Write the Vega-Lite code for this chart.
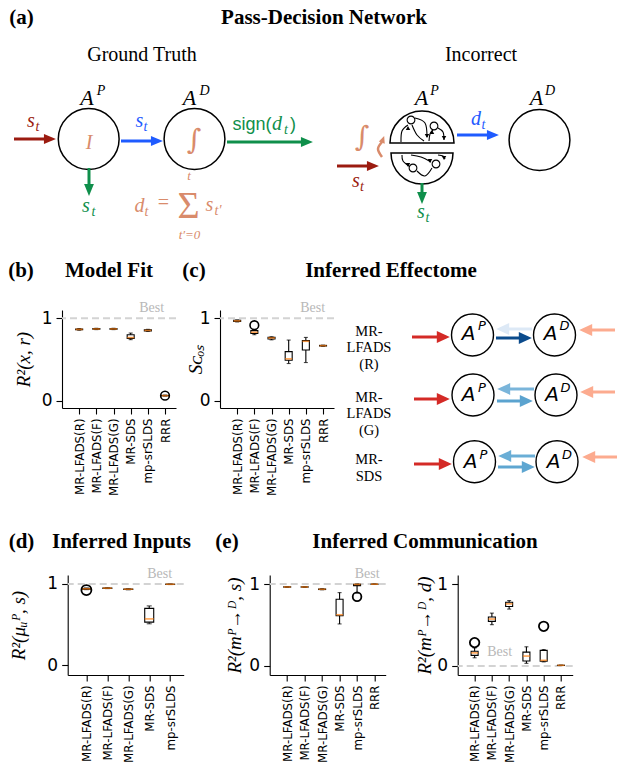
{
"$schema":"https://vega.github.io/schema/vega-lite/v6.json",
"background":"white",
"padding":{"left":8,"top":0,"right":0,"bottom":0},
"config":{"view":{"stroke":null},"axis":{"domainColor":"black","tickColor":"black","labelColor":"black","titleColor":"black","domainWidth":1.1,"tickWidth":1.1,"tickSize":6,"grid":false,"labelFont":"DejaVu Sans","titleFont":"Liberation Serif","titleFontWeight":"normal","titleFontStyle":"italic"}},
"datasets":{
"fit":[{"method":"MR-LFADS(R)","lo":0.855,"q1":0.86,"med":0.865,"q3":0.87,"hi":0.875},{"method":"MR-LFADS(F)","lo":0.862,"q1":0.866,"med":0.87,"q3":0.874,"hi":0.878},{"method":"MR-LFADS(G)","lo":0.862,"q1":0.866,"med":0.87,"q3":0.874,"hi":0.878},{"method":"MR-SDS","lo":0.74,"q1":0.755,"med":0.765,"q3":0.8,"hi":0.82},{"method":"mp-srSLDS","lo":0.84,"q1":0.845,"med":0.852,"q3":0.86,"hi":0.865},{"method":"RRR","lo":0.056,"q1":0.058,"med":0.06,"q3":0.063,"hi":0.066}],
"fitOut":[{"method":"RRR","v":0.06}],
"cos":[{"method":"MR-LFADS(R)","lo":0.955,"q1":0.96,"med":0.968,"q3":0.975,"hi":0.98},{"method":"MR-LFADS(F)","lo":0.8,"q1":0.815,"med":0.83,"q3":0.85,"hi":0.86},{"method":"MR-LFADS(G)","lo":0.738,"q1":0.748,"med":0.761,"q3":0.768,"hi":0.775},{"method":"MR-SDS","lo":0.45,"q1":0.49,"med":0.507,"q3":0.594,"hi":0.735},{"method":"mp-srSLDS","lo":0.462,"q1":0.615,"med":0.72,"q3":0.728,"hi":0.767},{"method":"RRR","lo":0.66,"q1":0.663,"med":0.667,"q3":0.67,"hi":0.673}],
"cosOut":[{"method":"MR-LFADS(F)","v":0.915}],
"inp":[{"method":"MR-LFADS(R)","lo":0.93,"q1":0.935,"med":0.94,"q3":0.945,"hi":0.95},{"method":"MR-LFADS(F)","lo":0.943,"q1":0.945,"med":0.948,"q3":0.95,"hi":0.952},{"method":"MR-LFADS(G)","lo":0.928,"q1":0.931,"med":0.935,"q3":0.938,"hi":0.941},{"method":"MR-SDS","lo":0.51,"q1":0.53,"med":0.57,"q3":0.7,"hi":0.73},{"method":"mp-srSLDS","lo":0.993,"q1":0.995,"med":0.996,"q3":0.997,"hi":0.998}],
"inpOut":[{"method":"MR-LFADS(R)","v":0.925}],
"comS":[{"method":"MR-LFADS(R)","lo":0.96,"q1":0.962,"med":0.964,"q3":0.966,"hi":0.968},{"method":"MR-LFADS(F)","lo":0.96,"q1":0.962,"med":0.964,"q3":0.966,"hi":0.968},{"method":"MR-LFADS(G)","lo":0.93,"q1":0.933,"med":0.936,"q3":0.939,"hi":0.942},{"method":"MR-SDS","lo":0.513,"q1":0.613,"med":0.625,"q3":0.815,"hi":0.895},{"method":"mp-srSLDS","lo":0.89,"q1":0.98,"med":0.995,"q3":0.998,"hi":1.0},{"method":"RRR","lo":0.996,"q1":0.997,"med":0.998,"q3":0.999,"hi":1.0}],
"comSOut":[{"method":"mp-srSLDS","v":0.845}],
"comD":[{"method":"MR-LFADS(R)","lo":0.1,"q1":0.13,"med":0.16,"q3":0.18,"hi":0.22},{"method":"MR-LFADS(F)","lo":0.504,"q1":0.544,"med":0.573,"q3":0.597,"hi":0.645},{"method":"MR-LFADS(G)","lo":0.694,"q1":0.726,"med":0.758,"q3":0.778,"hi":0.798},{"method":"MR-SDS","lo":0.032,"q1":0.06,"med":0.121,"q3":0.169,"hi":0.234},{"method":"mp-srSLDS","lo":0.05,"q1":0.058,"med":0.069,"q3":0.19,"hi":0.2},{"method":"RRR","lo":0.006,"q1":0.007,"med":0.008,"q3":0.009,"hi":0.01}],
"comDOut":[{"method":"MR-LFADS(R)","v":0.285},{"method":"mp-srSLDS","v":0.484}],
"a_circles":[{"x":91.7,"y":139},{"x":197.5,"y":139},{"x":542.5,"y":140}],
"a_split":[{"half":"top","x":425,"y":143},{"half":"bottom","x":425,"y":153}],
"a_arrows":[{"x":17,"y":139,"x2":48,"y2":139,"sig":"input","dir":"right"},{"x":124,"y":141,"x2":155,"y2":141,"sig":"comm","dir":"right"},{"x":230,"y":142,"x2":305,"y2":142,"sig":"output","dir":"right"},{"x":92,"y":168,"x2":92,"y2":185,"sig":"output","dir":"down"},{"x":340,"y":166,"x2":371,"y2":166,"sig":"input","dir":"right"},{"x":460,"y":135,"x2":491,"y2":135,"sig":"comm","dir":"right"},{"x":425,"y":183,"x2":425,"y2":193,"sig":"output","dir":"down"}],
"a_curves":[{"c":1,"o":1,"x":404,"y":142},{"c":1,"o":2,"x":405,"y":131},{"c":1,"o":3,"x":411,"y":125},{"c":2,"o":1,"x":418,"y":118},{"c":2,"o":2,"x":428,"y":123},{"c":2,"o":3,"x":430,"y":137},{"c":3,"o":1,"x":415,"y":125},{"c":3,"o":2,"x":420,"y":135},{"c":3,"o":3,"x":427,"y":141},{"c":4,"o":1,"x":432,"y":141},{"c":4,"o":2,"x":433,"y":134},{"c":4,"o":3,"x":436,"y":130},{"c":5,"o":1,"x":441,"y":128},{"c":5,"o":2,"x":446,"y":132},{"c":5,"o":3,"x":447,"y":140},{"c":6,"o":1,"x":405,"y":155},{"c":6,"o":2,"x":406,"y":161},{"c":6,"o":3,"x":412,"y":166},{"c":7,"o":1,"x":420,"y":171},{"c":7,"o":2,"x":428,"y":176},{"c":7,"o":3,"x":435,"y":168},{"c":8,"o":1,"x":414,"y":155},{"c":8,"o":2,"x":424,"y":157},{"c":8,"o":3,"x":434,"y":162},{"c":9,"o":1,"x":441,"y":155},{"c":9,"o":2,"x":446,"y":156},{"c":9,"o":3,"x":448,"y":159}],
"a_nodes":[{"x":414,"y":120},{"x":437,"y":126},{"x":416,"y":168},{"x":439,"y":164}],
"a_tiny":[{"x":411,"y":128,"dir":"up"},{"x":430,"y":136,"dir":"down"},{"x":435,"y":132,"dir":"up"},{"x":447,"y":138,"dir":"down"},{"x":411,"y":165,"dir":"down"},{"x":433,"y":161,"dir":"down"},{"x":447,"y":158,"dir":"down"}],
"a_coral":[{"o":1,"x":385,"y":157},{"o":2,"x":381,"y":149},{"o":3,"x":385,"y":142}],
"a_head":[{"t":"(a)","x":24.5,"y":24},{"t":"Pass-Decision Network","x":327,"y":24},{"t":"(b)","x":24,"y":277},{"t":"Model Fit","x":112,"y":277},{"t":"(c)","x":197,"y":277},{"t":"Inferred Effectome","x":394,"y":277},{"t":"(d)","x":24.5,"y":548},{"t":"Inferred Inputs","x":124.5,"y":548},{"t":"(e)","x":230,"y":548},{"t":"Inferred Communication","x":428,"y":548}],
"a_sub":[{"t":"Ground Truth","x":145,"y":61},{"t":"Incorrect","x":484,"y":61}],
"a_A":[{"t":"A","x":90,"y":105},{"t":"A","x":192.5,"y":105},{"t":"A","x":424.5,"y":105},{"t":"A","x":539.5,"y":105}],
"a_sup":[{"t":"P","x":104,"y":95},{"t":"D","x":207.5,"y":95},{"t":"P","x":437.5,"y":95},{"t":"D","x":553,"y":95}],
"a_math":[{"t":"s","x":34,"y":127,"sig":"input"},{"t":"s","x":142.5,"y":127,"sig":"comm"},{"t":"s","x":89,"y":212,"sig":"output"},{"t":"I","x":92,"y":149,"sig":"internal"},{"t":"d","x":142.5,"y":212,"sig":"internal"},{"t":"s","x":212.5,"y":211,"sig":"internal"},{"t":"d","x":280,"y":130,"sig":"output"},{"t":"s","x":359,"y":187,"sig":"input"},{"t":"s","x":424,"y":218,"sig":"output"},{"t":"d","x":479,"y":125,"sig":"comm"}],
"a_msub":[{"t":"t","x":40.5,"y":131,"sig":"input"},{"t":"t","x":148.5,"y":131,"sig":"comm"},{"t":"t","x":96.5,"y":216,"sig":"output"},{"t":"t","x":149.5,"y":216,"sig":"internal"},{"t":"t′","x":221,"y":215,"sig":"internal"},{"t":"t","x":289,"y":134,"sig":"output"},{"t":"t","x":365,"y":191,"sig":"input"},{"t":"t","x":430.5,"y":222,"sig":"output"},{"t":"t","x":486.5,"y":129,"sig":"comm"}],
"a_eq":[{"t":"=","x":166.5,"y":209,"sig":"internal"}],
"a_sigma":[{"t":"Σ","x":191.5,"y":218,"sig":"internal"}],
"a_lim":[{"t":"t","x":192,"y":180,"sig":"internal"},{"t":"t′=0","x":192.5,"y":239,"sig":"internal"}],
"a_sans":[{"t":"sign(","x":255,"y":130,"sig":"output"},{"t":")","x":296,"y":130,"sig":"output"}],
"a_int":[{"t":"∫","x":197,"y":141,"sig":"internal"},{"t":"∫","x":365,"y":138,"sig":"internal"}],
"e_circles":[{"x":475.5,"y":335},{"x":557.5,"y":335},{"x":476,"y":395},{"x":559,"y":395},{"x":477.5,"y":461.7},{"x":560,"y":461.7}],
"e_arrows":[{"x":415,"y":337,"x2":441,"y2":337,"k":"inP","dir":"right"},{"x":618,"y":330,"x2":594,"y2":330,"k":"inD","dir":"left"},{"x":535,"y":329,"x2":511,"y2":329,"k":"R_DP","dir":"left"},{"x":499,"y":338,"x2":523,"y2":338,"k":"R_PD","dir":"right"},{"x":417,"y":399,"x2":441,"y2":399,"k":"inP","dir":"right"},{"x":618,"y":392,"x2":595,"y2":392,"k":"inD","dir":"left"},{"x":537,"y":389,"x2":512,"y2":389,"k":"G_DP","dir":"left"},{"x":500,"y":401,"x2":524,"y2":401,"k":"G_PD","dir":"right"},{"x":417,"y":464,"x2":443,"y2":464,"k":"inP","dir":"right"},{"x":620,"y":457,"x2":597,"y2":457,"k":"inD","dir":"left"},{"x":538,"y":456,"x2":513,"y2":456,"k":"S_DP","dir":"left"},{"x":501,"y":467,"x2":526,"y2":467,"k":"S_PD","dir":"right"}],
"e_labels":[{"t":"MR-\nLFADS\n(R)","x":372,"y":331.5},{"t":"MR-\nLFADS\n(G)","x":372,"y":397.5},{"t":"MR-\nSDS","x":372,"y":460}],
"e_A":[{"t":"A","x":471.5,"y":340},{"t":"A","x":553.5,"y":340},{"t":"A","x":471.5,"y":401},{"t":"A","x":555,"y":401},{"t":"A","x":473.5,"y":468},{"t":"A","x":556.5,"y":468}],
"e_sup":[{"t":"P","x":485,"y":330},{"t":"D","x":567.5,"y":330},{"t":"P","x":485,"y":392},{"t":"D","x":568.5,"y":392},{"t":"P","x":486.5,"y":459},{"t":"D","x":570,"y":459}]
},
"resolve":{"scale":{"color":"independent","shape":"independent"}},
"spacing":265,"bounds":"flush",
"vconcat":[
 {"width":560,"height":45,
  "encoding":{"x":{"field":"x","type":"quantitative","scale":{"domain":[65,625],"nice":false,"zero":false},"axis":null},"y":{"field":"y","type":"quantitative","scale":{"domain":[0,45],"nice":false,"zero":false,"reverse":true},"axis":null}},
  "layer":[
   {"data":{"name":"a_circles"},"mark":{"type":"point","shape":"circle","size":3700,"filled":true,"fill":"white","stroke":"black","strokeWidth":1.5,"opacity":1}},
   {"data":{"name":"a_split"},"transform":[{"filter":"datum.half == 'top'"}],"mark":{"type":"arc","radius":32,"theta":-1.5708,"theta2":1.5708,"fill":"white","stroke":"black","strokeWidth":1.5}},
   {"data":{"name":"a_split"},"transform":[{"filter":"datum.half == 'bottom'"}],"mark":{"type":"arc","radius":31,"theta":1.5708,"theta2":4.7124,"fill":"white","stroke":"black","strokeWidth":1.5}},
   {"data":{"name":"a_curves"},"mark":{"type":"line","color":"black","strokeWidth":1.1,"interpolate":"cardinal"},"encoding":{"detail":{"field":"c","type":"nominal"},"order":{"field":"o","type":"quantitative"}}},
   {"data":{"name":"a_nodes"},"mark":{"type":"point","shape":"circle","size":60,"filled":true,"fill":"white","stroke":"black","strokeWidth":1.1,"opacity":1}},
   {"data":{"name":"a_tiny"},"mark":{"type":"point","size":20,"filled":true,"color":"black","opacity":1},"encoding":{"shape":{"field":"dir","type":"nominal","scale":{"domain":["up","down"],"range":["triangle-up","triangle-down"]},"legend":null}}},
   {"data":{"name":"a_coral"},"mark":{"type":"line","color":"#d98b6b","strokeWidth":2.5,"interpolate":"cardinal"},"encoding":{"order":{"field":"o","type":"quantitative"}}},
   {"data":{"values":[{"x":385,"y":142}]},"mark":{"type":"point","shape":"M1,0L-0.1,-0.5L-0.1,0.5Z","size":160,"angle":290,"filled":true,"color":"#d98b6b","opacity":1}},
   {"data":{"name":"a_arrows"},"mark":{"type":"rule","strokeWidth":3},"encoding":{"x2":{"field":"x2"},"y2":{"field":"y2"},"color":{"field":"sig","type":"nominal","scale":{"domain":["input","comm","output","internal"],"range":["#9b1b10","#1f5bff","#0f8f4b","#d98b6b"]},"legend":null}}},
   {"data":{"name":"a_arrows"},"transform":[{"filter":"datum.dir == 'right'"}],"mark":{"type":"point","shape":"M1,0L-0.1,-0.45L-0.1,0.45Z","size":476,"angle":0,"filled":true,"opacity":1},"encoding":{"x":{"field":"x2","type":"quantitative","scale":{"domain":[65,625],"nice":false,"zero":false},"axis":null},"y":{"field":"y2","type":"quantitative","scale":{"domain":[0,45],"nice":false,"zero":false,"reverse":true},"axis":null},"color":{"field":"sig","type":"nominal","scale":{"domain":["input","comm","output","internal"],"range":["#9b1b10","#1f5bff","#0f8f4b","#d98b6b"]},"legend":null}}},
   {"data":{"name":"a_arrows"},"transform":[{"filter":"datum.dir == 'down'"}],"mark":{"type":"point","shape":"M1,0L-0.1,-0.45L-0.1,0.45Z","size":476,"angle":90,"filled":true,"opacity":1},"encoding":{"x":{"field":"x2","type":"quantitative","scale":{"domain":[65,625],"nice":false,"zero":false},"axis":null},"y":{"field":"y2","type":"quantitative","scale":{"domain":[0,45],"nice":false,"zero":false,"reverse":true},"axis":null},"color":{"field":"sig","type":"nominal","scale":{"domain":["input","comm","output","internal"],"range":["#9b1b10","#1f5bff","#0f8f4b","#d98b6b"]},"legend":null}}},
   {"data":{"name":"a_head"},"mark":{"type":"text","font":"Liberation Serif","fontWeight":"bold","fontSize":21,"align":"center","baseline":"alphabetic","color":"black"},"encoding":{"text":{"field":"t","type":"nominal"}}},
   {"data":{"name":"a_sub"},"mark":{"type":"text","font":"Liberation Serif","fontSize":20,"align":"center","baseline":"alphabetic","color":"black"},"encoding":{"text":{"field":"t","type":"nominal"}}},
   {"data":{"name":"a_A"},"mark":{"type":"text","font":"Liberation Serif","fontStyle":"italic","fontSize":22,"align":"center","baseline":"alphabetic","color":"black"},"encoding":{"text":{"field":"t","type":"nominal"}}},
   {"data":{"name":"a_sup"},"mark":{"type":"text","font":"Liberation Serif","fontStyle":"italic","fontSize":14,"align":"center","baseline":"alphabetic","color":"black"},"encoding":{"text":{"field":"t","type":"nominal"}}},
   {"data":{"name":"a_math"},"mark":{"type":"text","font":"Liberation Serif","fontStyle":"italic","fontSize":20,"align":"center","baseline":"alphabetic"},"encoding":{"text":{"field":"t","type":"nominal"},"color":{"field":"sig","type":"nominal","scale":{"domain":["input","comm","output","internal"],"range":["#9b1b10","#1f5bff","#0f8f4b","#d98b6b"]},"legend":null}}},
   {"data":{"name":"a_msub"},"mark":{"type":"text","font":"Liberation Serif","fontStyle":"italic","fontSize":14,"align":"center","baseline":"alphabetic"},"encoding":{"text":{"field":"t","type":"nominal"},"color":{"field":"sig","type":"nominal","scale":{"domain":["input","comm","output","internal"],"range":["#9b1b10","#1f5bff","#0f8f4b","#d98b6b"]},"legend":null}}},
   {"data":{"name":"a_eq"},"mark":{"type":"text","font":"Liberation Serif","fontSize":20,"align":"center","baseline":"alphabetic"},"encoding":{"text":{"field":"t","type":"nominal"},"color":{"field":"sig","type":"nominal","scale":{"domain":["input","comm","output","internal"],"range":["#9b1b10","#1f5bff","#0f8f4b","#d98b6b"]},"legend":null}}},
   {"data":{"name":"a_sigma"},"mark":{"type":"text","font":"Liberation Serif","fontSize":38,"align":"center","baseline":"alphabetic"},"encoding":{"text":{"field":"t","type":"nominal"},"color":{"field":"sig","type":"nominal","scale":{"domain":["input","comm","output","internal"],"range":["#9b1b10","#1f5bff","#0f8f4b","#d98b6b"]},"legend":null}}},
   {"data":{"name":"a_lim"},"mark":{"type":"text","font":"Liberation Serif","fontStyle":"italic","fontSize":13,"align":"center","baseline":"alphabetic"},"encoding":{"text":{"field":"t","type":"nominal"},"color":{"field":"sig","type":"nominal","scale":{"domain":["input","comm","output","internal"],"range":["#9b1b10","#1f5bff","#0f8f4b","#d98b6b"]},"legend":null}}},
   {"data":{"name":"a_sans"},"mark":{"type":"text","font":"Liberation Sans","fontSize":18,"align":"center","baseline":"alphabetic"},"encoding":{"text":{"field":"t","type":"nominal"},"color":{"field":"sig","type":"nominal","scale":{"domain":["input","comm","output","internal"],"range":["#9b1b10","#1f5bff","#0f8f4b","#d98b6b"]},"legend":null}}},
   {"data":{"name":"a_int"},"mark":{"type":"text","font":"DejaVu Serif","fontStyle":"italic","fontSize":28,"align":"center","baseline":"middle"},"encoding":{"text":{"field":"t","type":"nominal"},"color":{"field":"sig","type":"nominal","scale":{"domain":["input","comm","output","internal"],"range":["#9b1b10","#1f5bff","#0f8f4b","#d98b6b"]},"legend":null}}}
  ]},
 {"hconcat":[
  {"width":114,"height":98,"layer":[
   {"data":{"values":[{"best":1}]},"mark":{"type":"rule","color":"#d3d3d3","strokeWidth":2,"strokeDash":[7,4]},"encoding":{"y":{"field":"best","type":"quantitative","scale":{"domain":[-0.09,1.1],"nice":false,"zero":false},"axis":{"values":[0,1],"format":"d","labelFontSize":17,"labelPadding":4,"title":"R²(x, r)","titleFontSize":19,"titlePadding":8}}}},
   {"data":{"values":[{"best":1}]},"mark":{"type":"text","text":"Best","align":"right","baseline":"alphabetic","dx":-1,"dy":-6,"font":"Liberation Serif","fontSize":14,"color":"#b8b8b8"},"encoding":{"x":{"datum":"RRR","type":"nominal","scale":{"type":"point","domain":["MR-LFADS(R)","MR-LFADS(F)","MR-LFADS(G)","MR-SDS","mp-srSLDS","RRR"],"padding":0.82,"align":0.61}},"y":{"field":"best","type":"quantitative"}}},
   {"data":{"name":"fit"},"mark":{"type":"rule","color":"black","strokeWidth":1.1},"encoding":{"x":{"field":"method","type":"nominal","sort":null,"scale":{"type":"point","domain":["MR-LFADS(R)","MR-LFADS(F)","MR-LFADS(G)","MR-SDS","mp-srSLDS","RRR"],"padding":0.82,"align":0.61},"axis":{"title":null,"labelAngle":-90,"labelFontSize":11.8,"labelPadding":4,"labelOverlap":false}},"y":{"field":"lo","type":"quantitative"},"y2":{"field":"q1"}}},
   {"data":{"name":"fit"},"mark":{"type":"rule","color":"black","strokeWidth":1.1},"encoding":{"x":{"field":"method","type":"nominal","sort":null},"y":{"field":"q3","type":"quantitative"},"y2":{"field":"hi"}}},
   {"data":{"name":"fit"},"mark":{"type":"bar","size":7,"fillOpacity":0,"stroke":"black","strokeWidth":1.1},"encoding":{"x":{"field":"method","type":"nominal","sort":null},"y":{"field":"q1","type":"quantitative"},"y2":{"field":"q3"}}},
   {"data":{"name":"fit"},"mark":{"type":"tick","orient":"horizontal","size":4,"thickness":1.1,"color":"black"},"encoding":{"x":{"field":"method","type":"nominal","sort":null},"y":{"field":"lo","type":"quantitative"}}},
   {"data":{"name":"fit"},"mark":{"type":"tick","orient":"horizontal","size":4,"thickness":1.1,"color":"black"},"encoding":{"x":{"field":"method","type":"nominal","sort":null},"y":{"field":"hi","type":"quantitative"}}},
   {"data":{"name":"fit"},"mark":{"type":"tick","orient":"horizontal","size":7,"thickness":1.6,"color":"#ff7f0e"},"encoding":{"x":{"field":"method","type":"nominal","sort":null},"y":{"field":"med","type":"quantitative"}}},
   {"data":{"name":"fitOut"},"mark":{"type":"point","shape":"circle","filled":false,"color":"black","strokeWidth":1.6,"size":75,"opacity":1},"encoding":{"x":{"field":"method","type":"nominal","sort":null},"y":{"field":"v","type":"quantitative"}}}
  ]},
  {"width":114,"height":98,"layer":[
   {"data":{"values":[{"best":1}]},"mark":{"type":"rule","color":"#d3d3d3","strokeWidth":2,"strokeDash":[7,4]},"encoding":{"y":{"field":"best","type":"quantitative","scale":{"domain":[-0.09,1.1],"nice":false,"zero":false},"axis":{"values":[0,1],"format":"d","labelFontSize":17,"labelPadding":4,"title":"Sᴄₒₛ","titleFontSize":19,"titlePadding":-6}}}},
   {"data":{"values":[{"best":1}]},"mark":{"type":"text","text":"Best","align":"right","baseline":"alphabetic","dx":2,"dy":-6,"font":"Liberation Serif","fontSize":14,"color":"#b8b8b8"},"encoding":{"x":{"datum":"RRR","type":"nominal","scale":{"type":"point","domain":["MR-LFADS(R)","MR-LFADS(F)","MR-LFADS(G)","MR-SDS","mp-srSLDS","RRR"],"padding":0.82,"align":0.61}},"y":{"field":"best","type":"quantitative"}}},
   {"data":{"name":"cos"},"mark":{"type":"rule","color":"black","strokeWidth":1.1},"encoding":{"x":{"field":"method","type":"nominal","sort":null,"scale":{"type":"point","domain":["MR-LFADS(R)","MR-LFADS(F)","MR-LFADS(G)","MR-SDS","mp-srSLDS","RRR"],"padding":0.82,"align":0.61},"axis":{"title":null,"labelAngle":-90,"labelFontSize":11.8,"labelPadding":4,"labelOverlap":false}},"y":{"field":"lo","type":"quantitative"},"y2":{"field":"q1"}}},
   {"data":{"name":"cos"},"mark":{"type":"rule","color":"black","strokeWidth":1.1},"encoding":{"x":{"field":"method","type":"nominal","sort":null},"y":{"field":"q3","type":"quantitative"},"y2":{"field":"hi"}}},
   {"data":{"name":"cos"},"mark":{"type":"bar","size":7,"fillOpacity":0,"stroke":"black","strokeWidth":1.1},"encoding":{"x":{"field":"method","type":"nominal","sort":null},"y":{"field":"q1","type":"quantitative"},"y2":{"field":"q3"}}},
   {"data":{"name":"cos"},"mark":{"type":"tick","orient":"horizontal","size":4,"thickness":1.1,"color":"black"},"encoding":{"x":{"field":"method","type":"nominal","sort":null},"y":{"field":"lo","type":"quantitative"}}},
   {"data":{"name":"cos"},"mark":{"type":"tick","orient":"horizontal","size":4,"thickness":1.1,"color":"black"},"encoding":{"x":{"field":"method","type":"nominal","sort":null},"y":{"field":"hi","type":"quantitative"}}},
   {"data":{"name":"cos"},"mark":{"type":"tick","orient":"horizontal","size":7,"thickness":1.6,"color":"#ff7f0e"},"encoding":{"x":{"field":"method","type":"nominal","sort":null},"y":{"field":"med","type":"quantitative"}}},
   {"data":{"name":"cosOut"},"mark":{"type":"point","shape":"circle","filled":false,"color":"black","strokeWidth":1.6,"size":75,"opacity":1},"encoding":{"x":{"field":"method","type":"nominal","sort":null},"y":{"field":"v","type":"quantitative"}}}
  ]},
  {"width":245,"height":98,
   "encoding":{"x":{"field":"x","type":"quantitative","scale":{"domain":[381,626],"nice":false,"zero":false},"axis":null},"y":{"field":"y","type":"quantitative","scale":{"domain":[310,408],"nice":false,"zero":false,"reverse":true},"axis":null}},
   "layer":[
    {"data":{"name":"e_labels"},"mark":{"type":"text","font":"Liberation Serif","fontSize":14.5,"lineBreak":"\n","lineHeight":16.5,"align":"center","baseline":"middle","color":"black"},"encoding":{"text":{"field":"t","type":"nominal"}}},
    {"data":{"name":"e_arrows"},"mark":{"type":"rule","strokeWidth":3},"encoding":{"x2":{"field":"x2"},"y2":{"field":"y2"},"color":{"field":"k","type":"nominal","scale":{"domain":["inP","inD","R_PD","R_DP","G_PD","G_DP","S_PD","S_DP"],"range":["#d42a26","#fcab8f","#0b4b8c","#dde9f6","#5ba3cf","#7ab5da","#5ea6d1","#6aaed6"]},"legend":null}}},
    {"data":{"name":"e_arrows"},"transform":[{"filter":"datum.dir == 'right'"}],"mark":{"type":"point","shape":"M1,0L-0.1,-0.5L-0.1,0.5Z","size":558,"angle":0,"filled":true,"opacity":1},"encoding":{"x":{"field":"x2","type":"quantitative","scale":{"domain":[381,626],"nice":false,"zero":false},"axis":null},"y":{"field":"y2","type":"quantitative","scale":{"domain":[310,408],"nice":false,"zero":false,"reverse":true},"axis":null},"color":{"field":"k","type":"nominal","scale":{"domain":["inP","inD","R_PD","R_DP","G_PD","G_DP","S_PD","S_DP"],"range":["#d42a26","#fcab8f","#0b4b8c","#dde9f6","#5ba3cf","#7ab5da","#5ea6d1","#6aaed6"]},"legend":null}}},
    {"data":{"name":"e_arrows"},"transform":[{"filter":"datum.dir == 'left'"}],"mark":{"type":"point","shape":"M1,0L-0.1,-0.5L-0.1,0.5Z","size":558,"angle":180,"filled":true,"opacity":1},"encoding":{"x":{"field":"x2","type":"quantitative","scale":{"domain":[381,626],"nice":false,"zero":false},"axis":null},"y":{"field":"y2","type":"quantitative","scale":{"domain":[310,408],"nice":false,"zero":false,"reverse":true},"axis":null},"color":{"field":"k","type":"nominal","scale":{"domain":["inP","inD","R_PD","R_DP","G_PD","G_DP","S_PD","S_DP"],"range":["#d42a26","#fcab8f","#0b4b8c","#dde9f6","#5ba3cf","#7ab5da","#5ea6d1","#6aaed6"]},"legend":null}}},
    {"data":{"name":"e_circles"},"mark":{"type":"point","shape":"circle","size":1764,"filled":true,"fill":"white","stroke":"black","strokeWidth":1.4,"opacity":1,"fillOpacity":0}},
    {"data":{"name":"e_A"},"mark":{"type":"text","font":"DejaVu Sans","fontStyle":"italic","fontSize":20,"align":"center","baseline":"alphabetic","color":"black"},"encoding":{"text":{"field":"t","type":"nominal"}}},
    {"data":{"name":"e_sup"},"mark":{"type":"text","font":"DejaVu Sans","fontStyle":"italic","fontSize":13,"align":"center","baseline":"alphabetic","color":"black"},"encoding":{"text":{"field":"t","type":"nominal"}}}
   ]}
 ],"spacing":44,"bounds":"flush"},
 {"hconcat":[
  {"width":1,"height":100,"data":{"values":[{"s":0}]},"mark":{"type":"point","opacity":0}},
  {"hconcat":[
   {"width":116,"height":100,"layer":[
    {"data":{"values":[{"best":1}]},"mark":{"type":"rule","color":"#d3d3d3","strokeWidth":2,"strokeDash":[7,4]},"encoding":{"y":{"field":"best","type":"quantitative","scale":{"domain":[-0.12,1.11],"nice":false,"zero":false},"axis":{"values":[0,1],"format":"d","labelFontSize":17,"labelPadding":4,"title":"R²(μᵤᴾ, s)","titleFontSize":19,"titlePadding":18}}}},
    {"data":{"values":[{"best":1}]},"mark":{"type":"text","text":"Best","align":"right","baseline":"alphabetic","dx":2,"dy":-6,"font":"Liberation Serif","fontSize":14,"color":"#b8b8b8"},"encoding":{"x":{"datum":"mp-srSLDS","type":"nominal","scale":{"type":"point","domain":["MR-LFADS(R)","MR-LFADS(F)","MR-LFADS(G)","MR-SDS","mp-srSLDS"],"padding":0.77,"align":0.58}},"y":{"field":"best","type":"quantitative"}}},
    {"data":{"name":"inp"},"mark":{"type":"rule","color":"black","strokeWidth":1.1},"encoding":{"x":{"field":"method","type":"nominal","sort":null,"scale":{"type":"point","domain":["MR-LFADS(R)","MR-LFADS(F)","MR-LFADS(G)","MR-SDS","mp-srSLDS"],"padding":0.77,"align":0.58},"axis":{"title":null,"labelAngle":-90,"labelFontSize":11.8,"labelPadding":4,"labelOverlap":false}},"y":{"field":"lo","type":"quantitative"},"y2":{"field":"q1"}}},
    {"data":{"name":"inp"},"mark":{"type":"rule","color":"black","strokeWidth":1.1},"encoding":{"x":{"field":"method","type":"nominal","sort":null},"y":{"field":"q3","type":"quantitative"},"y2":{"field":"hi"}}},
    {"data":{"name":"inp"},"mark":{"type":"bar","size":9,"fillOpacity":0,"stroke":"black","strokeWidth":1.1},"encoding":{"x":{"field":"method","type":"nominal","sort":null},"y":{"field":"q1","type":"quantitative"},"y2":{"field":"q3"}}},
    {"data":{"name":"inp"},"mark":{"type":"tick","orient":"horizontal","size":5,"thickness":1.1,"color":"black"},"encoding":{"x":{"field":"method","type":"nominal","sort":null},"y":{"field":"lo","type":"quantitative"}}},
    {"data":{"name":"inp"},"mark":{"type":"tick","orient":"horizontal","size":5,"thickness":1.1,"color":"black"},"encoding":{"x":{"field":"method","type":"nominal","sort":null},"y":{"field":"hi","type":"quantitative"}}},
    {"data":{"name":"inp"},"mark":{"type":"tick","orient":"horizontal","size":9,"thickness":1.6,"color":"#ff7f0e"},"encoding":{"x":{"field":"method","type":"nominal","sort":null},"y":{"field":"med","type":"quantitative"}}},
    {"data":{"name":"inpOut"},"mark":{"type":"point","shape":"circle","filled":false,"color":"black","strokeWidth":1.8,"size":100,"opacity":1},"encoding":{"x":{"field":"method","type":"nominal","sort":null},"y":{"field":"v","type":"quantitative"}}}
   ]},
   {"hconcat":[
    {"width":116,"height":100,"layer":[
     {"data":{"values":[{"best":1}]},"mark":{"type":"rule","color":"#d3d3d3","strokeWidth":2,"strokeDash":[7,4]},"encoding":{"y":{"field":"best","type":"quantitative","scale":{"domain":[-0.11,1.11],"nice":false,"zero":false},"axis":{"values":[0,1],"format":"d","labelFontSize":17,"labelPadding":4,"title":"R²(mᴾ→ᴰ, s)","titleFontSize":19,"titlePadding":4}}}},
     {"data":{"values":[{"best":1}]},"mark":{"type":"text","text":"Best","align":"right","baseline":"alphabetic","dx":5,"dy":-6,"font":"Liberation Serif","fontSize":14,"color":"#b8b8b8"},"encoding":{"x":{"datum":"RRR","type":"nominal","scale":{"type":"point","domain":["MR-LFADS(R)","MR-LFADS(F)","MR-LFADS(G)","MR-SDS","mp-srSLDS","RRR"],"padding":0.82,"align":0.61}},"y":{"field":"best","type":"quantitative"}}},
     {"data":{"name":"comS"},"mark":{"type":"rule","color":"black","strokeWidth":1.1},"encoding":{"x":{"field":"method","type":"nominal","sort":null,"scale":{"type":"point","domain":["MR-LFADS(R)","MR-LFADS(F)","MR-LFADS(G)","MR-SDS","mp-srSLDS","RRR"],"padding":0.82,"align":0.61},"axis":{"title":null,"labelAngle":-90,"labelFontSize":11.8,"labelPadding":4,"labelOverlap":false}},"y":{"field":"lo","type":"quantitative"},"y2":{"field":"q1"}}},
     {"data":{"name":"comS"},"mark":{"type":"rule","color":"black","strokeWidth":1.1},"encoding":{"x":{"field":"method","type":"nominal","sort":null},"y":{"field":"q3","type":"quantitative"},"y2":{"field":"hi"}}},
     {"data":{"name":"comS"},"mark":{"type":"bar","size":7,"fillOpacity":0,"stroke":"black","strokeWidth":1.1},"encoding":{"x":{"field":"method","type":"nominal","sort":null},"y":{"field":"q1","type":"quantitative"},"y2":{"field":"q3"}}},
     {"data":{"name":"comS"},"mark":{"type":"tick","orient":"horizontal","size":4,"thickness":1.1,"color":"black"},"encoding":{"x":{"field":"method","type":"nominal","sort":null},"y":{"field":"lo","type":"quantitative"}}},
     {"data":{"name":"comS"},"mark":{"type":"tick","orient":"horizontal","size":4,"thickness":1.1,"color":"black"},"encoding":{"x":{"field":"method","type":"nominal","sort":null},"y":{"field":"hi","type":"quantitative"}}},
     {"data":{"name":"comS"},"mark":{"type":"tick","orient":"horizontal","size":7,"thickness":1.6,"color":"#ff7f0e"},"encoding":{"x":{"field":"method","type":"nominal","sort":null},"y":{"field":"med","type":"quantitative"}}},
     {"data":{"name":"comSOut"},"mark":{"type":"point","shape":"circle","filled":false,"color":"black","strokeWidth":1.8,"size":75,"opacity":1},"encoding":{"x":{"field":"method","type":"nominal","sort":null},"y":{"field":"v","type":"quantitative"}}}
    ]},
    {"width":115,"height":100,"layer":[
     {"data":{"values":[{"best":0}]},"mark":{"type":"rule","color":"#d3d3d3","strokeWidth":2,"strokeDash":[7,4]},"encoding":{"y":{"field":"best","type":"quantitative","scale":{"domain":[-0.11,1.11],"nice":false,"zero":false},"axis":{"values":[0,1],"format":"d","labelFontSize":17,"labelPadding":4,"title":"R²(mᴾ→ᴰ, d)","titleFontSize":19,"titlePadding":2}}}},
     {"data":{"values":[{"best":0}]},"mark":{"type":"text","text":"Best","align":"right","baseline":"alphabetic","dx":3,"dy":-10,"font":"Liberation Serif","fontSize":14,"color":"#b8b8b8"},"encoding":{"x":{"datum":"MR-LFADS(G)","type":"nominal","scale":{"type":"point","domain":["MR-LFADS(R)","MR-LFADS(F)","MR-LFADS(G)","MR-SDS","mp-srSLDS","RRR"],"padding":0.83,"align":0.59}},"y":{"field":"best","type":"quantitative"}}},
     {"data":{"name":"comD"},"mark":{"type":"rule","color":"black","strokeWidth":1.1},"encoding":{"x":{"field":"method","type":"nominal","sort":null,"scale":{"type":"point","domain":["MR-LFADS(R)","MR-LFADS(F)","MR-LFADS(G)","MR-SDS","mp-srSLDS","RRR"],"padding":0.83,"align":0.59},"axis":{"title":null,"labelAngle":-90,"labelFontSize":11.8,"labelPadding":4,"labelOverlap":false}},"y":{"field":"lo","type":"quantitative"},"y2":{"field":"q1"}}},
     {"data":{"name":"comD"},"mark":{"type":"rule","color":"black","strokeWidth":1.1},"encoding":{"x":{"field":"method","type":"nominal","sort":null},"y":{"field":"q3","type":"quantitative"},"y2":{"field":"hi"}}},
     {"data":{"name":"comD"},"mark":{"type":"bar","size":7,"fillOpacity":0,"stroke":"black","strokeWidth":1.1},"encoding":{"x":{"field":"method","type":"nominal","sort":null},"y":{"field":"q1","type":"quantitative"},"y2":{"field":"q3"}}},
     {"data":{"name":"comD"},"mark":{"type":"tick","orient":"horizontal","size":4,"thickness":1.1,"color":"black"},"encoding":{"x":{"field":"method","type":"nominal","sort":null},"y":{"field":"lo","type":"quantitative"}}},
     {"data":{"name":"comD"},"mark":{"type":"tick","orient":"horizontal","size":4,"thickness":1.1,"color":"black"},"encoding":{"x":{"field":"method","type":"nominal","sort":null},"y":{"field":"hi","type":"quantitative"}}},
     {"data":{"name":"comD"},"mark":{"type":"tick","orient":"horizontal","size":7,"thickness":1.6,"color":"#ff7f0e"},"encoding":{"x":{"field":"method","type":"nominal","sort":null},"y":{"field":"med","type":"quantitative"}}},
     {"data":{"name":"comDOut"},"mark":{"type":"point","shape":"circle","filled":false,"color":"black","strokeWidth":1.8,"size":90,"opacity":1},"encoding":{"x":{"field":"method","type":"nominal","sort":null},"y":{"field":"v","type":"quantitative"}}}
    ]}
   ],"spacing":72,"bounds":"flush"}
  ],"spacing":86,"bounds":"flush"}
 ],"spacing":4.7,"bounds":"flush"}
]
}
